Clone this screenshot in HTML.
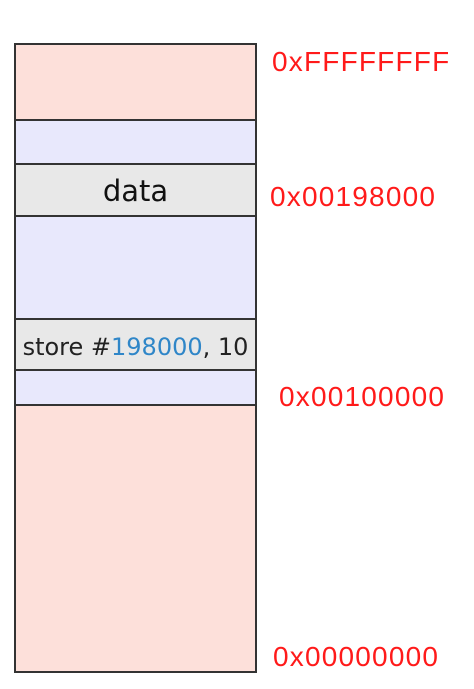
<!DOCTYPE html>
<html><head><style>
body{margin:0;width:474px;height:689px;background:#fff;position:relative;overflow:hidden;font-family:"Liberation Sans","DejaVu Sans",sans-serif;}
.s{position:absolute;left:14px;width:239px;border:2px solid #333;box-sizing:content-box;}
.l{position:absolute;color:#ff1a1a;font-size:28px;letter-spacing:1.2px;line-height:1;white-space:nowrap;}
</style></head><body>
<div class="s" style="top:43px;height:76px;background:#fde0da"></div>
<div class="s" style="top:119px;height:44px;background:#e8e8fc"></div>
<div class="s" style="top:163px;height:50px;background:#e8e8e8;border-bottom:none;">
<div style="text-align:center;font-family:'DejaVu Sans',sans-serif;font-size:29px;line-height:52px;color:#111">data</div></div>
<div class="s" style="top:215px;height:101px;background:#e8e8fc"></div>
<div class="s" style="top:318px;height:49px;background:#e8e8e8">
<div style="text-align:center;font-family:'DejaVu Sans',sans-serif;font-size:24px;line-height:54px;color:#222;white-space:nowrap;margin-left:-6px;margin-right:-6px">store #<span style="color:#2f86c8">198000</span>, 10</div></div>
<div class="s" style="top:369px;height:35px;background:#e8e8fc"></div>
<div class="s" style="top:404px;height:265px;background:#fde0da"></div>
<div class="l" style="left:272px;top:48px;width:176px;overflow:hidden">0xFFFFFFFF</div>
<div class="l" style="left:270px;top:183px">0x00198000</div>
<div class="l" style="left:279px;top:383px">0x00100000</div>
<div class="l" style="left:273px;top:643px">0x00000000</div>
</body></html>
